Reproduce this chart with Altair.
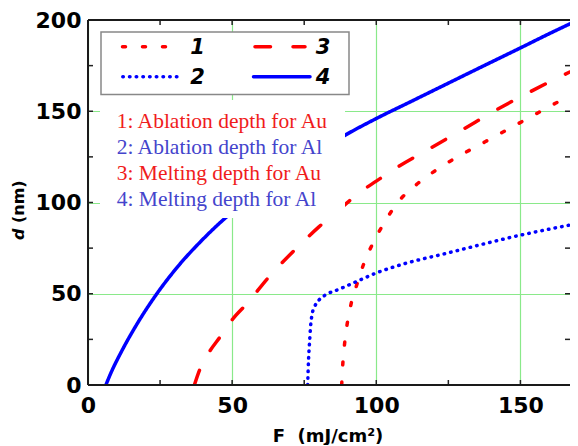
import altair as alt
import pandas as pd

# ---- data ----
F1 = [88.0, 88.4, 89.0, 89.9, 91.3, 93.4, 95.7, 98.8, 102.6, 107.3, 114.0, 120.7, 127.6, 134.9, 142.1, 149.0, 155.7, 162.3, 169.2, 170.0]
D1 = [0.0, 11.9, 22.5, 33.4, 44.7, 55.7, 66.6, 77.6, 88.5, 99.7, 109.9, 117.7, 124.5, 130.8, 137.0, 143.0, 148.8, 154.5, 160.4, 161.1]

F2 = [76.2, 76.5, 76.9, 77.2, 77.8, 78.6, 80.1, 82.3, 87.0, 93.6, 100.2, 110.1, 124.2, 137.0, 150.0, 160.0, 170.0]
D2 = [0.0, 13.7, 24.6, 31.9, 39.2, 42.9, 46.5, 49.3, 52.4, 57.0, 61.5, 66.6, 72.1, 77.2, 82.1, 85.4, 88.5]

F3 = [36.9, 38.7, 42.1, 45.9, 50.4, 55.2, 62.3, 71.7, 80.0, 88.0, 94.2, 100.0, 108.0, 117.6, 130.0, 141.5, 155.0, 170.0]
D3 = [0.0, 8.2, 18.2, 26.5, 36.5, 44.7, 58.4, 74.0, 86.5, 97.3, 105.5, 111.7, 120.0, 128.7, 140.0, 150.6, 162.0, 173.7]

F4 = [6.2, 8.0, 11.5, 17.3, 23.7, 31.2, 39.2, 46.7, 55.0, 65.0, 75.0, 89.2, 100.0, 112.0, 125.0, 137.0, 150.0, 160.0, 170.0]
D4 = [0.0, 6.8, 18.0, 34.2, 49.6, 65.0, 78.8, 90.2, 101.0, 112.5, 123.0, 136.9, 146.0, 155.3, 165.4, 174.7, 184.7, 192.5, 200.0]

SERIES = ["1", "2", "3", "4"]
SERIES_TEXT = ["1: Ablation depth for Au", "2: Ablation depth for Al",
               "3: Melting depth for Au", "4: Melting depth for Al"]
X_LABELS = [0, 50, 100, 150]
Y_LABELS = [0, 50, 100, 150, 200]
X_TICKS = [25, 50, 75, 100, 125, 150]
Y_TICKS = [25, 50, 75, 100, 125, 150, 175]
X_TITLE = "F\u00a0 (mJ/cm²)"
Y_TITLE_VAR = "d"
Y_TITLE_UNIT = "(nm)"

# ---- styles ----
W, H = 482, 365
X_MAX = 167.2          # the reference figure is cut at its right edge
RED, BLUE = "#ff0000", "#0000ff"
COLORS = [RED, BLUE, RED, BLUE]
DASHES = [[3, 17], [0.5, 6.2], [15.5, 22.5], [1, 0]]
TEXT_COLORS = ["#f01c1c", "#4444cc", "#f01c1c", "#4444cc"]
GREEN = "#8ae98a"
FRAME = "#1a1a1a"
SANS = "DejaVu Sans"
SERIF = "Liberation Serif"

rows = []
for sid, fs, ds in zip(SERIES, [F1, F2, F3, F4], [D1, D2, D3, D4]):
    for i, (f, d) in enumerate(zip(fs, ds)):
        rows.append({"series": sid, "F": f, "d": d, "i": i})
curves_df = pd.DataFrame(rows)

xs = alt.Scale(domain=[0, X_MAX], nice=False, zero=False)
ys = alt.Scale(domain=[0, 200], nice=False, zero=False)

xaxis = alt.Axis(values=X_LABELS, title=None, grid=True, gridColor=GREEN, gridWidth=1.2,
                 ticks=False, domain=False, labelFont=SANS, labelFontWeight="bold",
                 labelFontSize=22, labelColor="black", labelPadding=10, labelFlush=False)
yaxis = alt.Axis(values=Y_LABELS, title=None, grid=True, gridColor=GREEN, gridWidth=1.2,
                 ticks=False, domain=False, labelFont=SANS, labelFontWeight="bold",
                 labelFontSize=22, labelColor="black", labelPadding=7, labelFlush=False)

one = pd.DataFrame({"k": [0]})

# ticks (inward) on all four sides
xt = pd.DataFrame({"v": X_TICKS})
yt = pd.DataFrame({"v": Y_TICKS})
tick_style = dict(color="#222222", strokeWidth=1.5)
bottom_ticks = alt.Chart(xt).mark_rule(**tick_style).encode(
    x=alt.X("v:Q", scale=xs, axis=xaxis), y=alt.value(H), y2=alt.value(H - 5))
top_ticks = alt.Chart(xt).mark_rule(**tick_style).encode(
    x=alt.X("v:Q", scale=xs, axis=xaxis), y=alt.value(0), y2=alt.value(5))
left_ticks = alt.Chart(yt).mark_rule(**tick_style).encode(
    y=alt.Y("v:Q", scale=ys, axis=yaxis), x=alt.value(0), x2=alt.value(5))
right_ticks = alt.Chart(yt).mark_rule(**tick_style).encode(
    y=alt.Y("v:Q", scale=ys, axis=yaxis), x=alt.value(W), x2=alt.value(W - 5))

# frame (left, top, bottom; the right side is cut off in the reference)
frame_style = dict(color=FRAME, strokeWidth=2)
frame = [
    alt.Chart(one).mark_rule(**frame_style).encode(x=alt.value(0), y=alt.value(0), y2=alt.value(H)),
    alt.Chart(one).mark_rule(**frame_style).encode(x=alt.value(0), x2=alt.value(W), y=alt.value(0)),
    alt.Chart(one).mark_rule(**frame_style).encode(x=alt.value(0), x2=alt.value(W), y=alt.value(H)),
]

curves = alt.Chart(curves_df).mark_line(
    strokeWidth=3.5, strokeCap="round", interpolate="monotone", clip=True
).encode(
    x=alt.X("F:Q", scale=xs, axis=xaxis),
    y=alt.Y("d:Q", scale=ys, axis=yaxis),
    color=alt.Color("series:N", scale=alt.Scale(domain=SERIES, range=COLORS), legend=None),
    strokeDash=alt.StrokeDash("series:N", scale=alt.Scale(domain=SERIES, range=DASHES), legend=None),
    detail="series:N",
    order=alt.Order("i:Q"),
)

# white box behind the annotation text
note_box = alt.Chart(one).mark_rect(fill="white").encode(
    x=alt.value(12), x2=alt.value(257), y=alt.value(80), y2=alt.value(198))

note_layers = []
for txt, col, yb in zip(SERIES_TEXT, TEXT_COLORS, [107.7, 134.0, 160.0, 185.7]):
    note_layers.append(
        alt.Chart(pd.DataFrame({"t": [txt]})).mark_text(
            font=SERIF, fontSize=21.5, color=col, align="left", baseline="alphabetic"
        ).encode(text="t:N", x=alt.value(28.7), y=alt.value(yb))
    )

# legend box
legend_box = alt.Chart(one).mark_rect(fill="white", stroke="#888888", strokeWidth=1.5).encode(
    x=alt.value(13), x2=alt.value(261), y=alt.value(12), y2=alt.value(74.5))

legend_pos = {  # series -> (x1, x2, y, label x)
    "1": (34.5, 80.0, 26.7, 109.5),
    "2": (34.8, 89.0, 56.7, 109.5),
    "3": (167.0, 217.0, 26.7, 235.0),
    "4": (165.5, 222.0, 56.7, 235.0),
}
legend_layers = []
for sid, col, dash in zip(SERIES, COLORS, DASHES):
    x1, x2, yy, lx = legend_pos[sid]
    legend_layers.append(
        alt.Chart(pd.DataFrame({"s": [sid]})).mark_rule(
            color=col, strokeWidth=3.5, strokeDash=dash, strokeCap="round"
        ).encode(x=alt.value(x1), x2=alt.value(x2), y=alt.value(yy))
    )
    legend_layers.append(
        alt.Chart(pd.DataFrame({"s": [sid]})).mark_text(
            font=SANS, fontSize=21, fontWeight="bold", fontStyle="italic",
            color="black", align="center", baseline="middle"
        ).encode(text="s:N", x=alt.value(lx), y=alt.value(yy + 1))
    )

# axis titles
x_title = alt.Chart(pd.DataFrame({"t": [X_TITLE]})).mark_text(
    font=SANS, fontSize=18, fontWeight="bold", color="black", align="center", baseline="alphabetic"
).encode(text="t:N", x=alt.value(240), y=alt.value(421.5))
y_title_a = alt.Chart(pd.DataFrame({"t": [Y_TITLE_VAR]})).mark_text(
    font=SANS, fontSize=16, fontWeight="bold", fontStyle="italic", color="black",
    align="left", baseline="middle", angle=270
).encode(text="t:N", x=alt.value(-69), y=alt.value(220))
y_title_b = alt.Chart(pd.DataFrame({"t": [Y_TITLE_UNIT]})).mark_text(
    font=SANS, fontSize=16, fontWeight="bold", color="black",
    align="left", baseline="middle", angle=270
).encode(text="t:N", x=alt.value(-69), y=alt.value(203))

chart = alt.layer(
    curves, bottom_ticks, top_ticks, left_ticks, right_ticks, *frame,
    note_box, *note_layers, legend_box, *legend_layers,
    x_title, y_title_a, y_title_b,
).properties(
    width=W, height=H,
    autosize=alt.AutoSizeParams(type="none"),
    padding={"left": 80, "top": 12, "right": 0, "bottom": 60},
    background="white",
).configure_view(strokeWidth=0)

chart.save("out.html", embed_options={"renderer": "svg", "actions": False})
